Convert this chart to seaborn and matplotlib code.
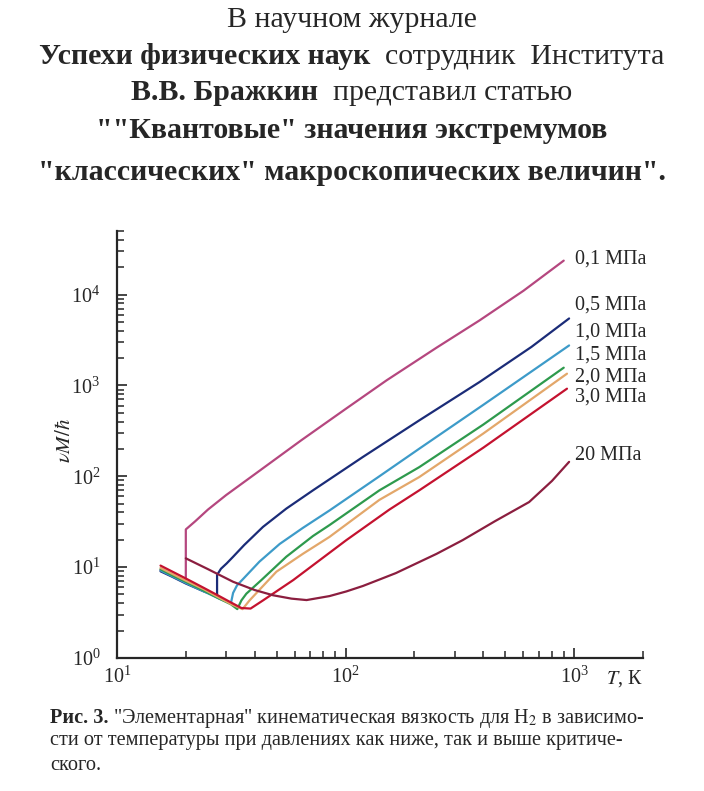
import numpy as np
import pandas as pd
import seaborn as sns
import matplotlib.pyplot as plt
from matplotlib.ticker import LogLocator, NullFormatter

# Значения: T (K) и vM/hbar
pressures = ["0,1 МПа", "0,5 МПа", "1,0 МПа", "1,5 МПа", "2,0 МПа", "3,0 МПа", "20 МПа"]
colors = ["#b5477f", "#1b2c78", "#3d9bc9", "#2e9a4d", "#e3a76a", "#c4122f", "#8b1e3f"]

T_01 = [15.5, 17.5, 20, 20, 22, 25, 30, 40, 64, 100, 151, 250, 385, 600, 900]
v_01 = [9.3, 8.0, 6.8, 26, 32, 43, 62, 105, 249, 550, 1135, 2600, 5180, 11000, 23600]

T_05 = [15.5, 17.5, 20, 24, 27.4, 27.4, 28.5, 30.2, 32.2, 36, 43.5, 55, 72, 119, 210, 385, 650, 950]
v_05 = [9.0, 7.8, 6.6, 5.4, 4.8, 8.2, 9.6, 11, 13, 17.5, 27.7, 44, 70, 163, 412, 1087, 2650, 5450]

T_10 = [15.5, 17.5, 20, 24, 28, 31.5, 32.2, 33.5, 35.6, 42, 51.5, 65, 85, 140.6, 210, 400, 950]
v_10 = [9.2, 7.9, 6.7, 5.4, 4.5, 4.0, 5.2, 6.3, 7.4, 11.5, 18, 27, 42, 100, 201, 610, 2750]

T_15 = [15.5, 17.5, 20, 24, 28, 31.5, 33.6, 35, 36.8, 42.8, 55, 72, 85, 140.6, 210, 400, 900]
v_15 = [9.5, 8.1, 6.9, 5.5, 4.5, 3.9, 3.45, 4.3, 5.1, 7.2, 13, 22, 29, 70, 126, 370, 1566]

T_20 = [15.5, 17.5, 20, 24, 28, 32, 35.4, 38, 43, 49.8, 65, 85, 140.6, 210, 400, 930]
v_20 = [9.8, 8.4, 7.1, 5.7, 4.6, 3.85, 3.45, 4.3, 6.0, 8.9, 14, 21.5, 55, 98, 295, 1345]

T_30 = [15.5, 17.5, 20, 24, 28, 32, 35, 38.4, 43.5, 59, 100.7, 155.5, 210, 400, 930]
v_30 = [10.4, 8.9, 7.5, 5.9, 4.8, 4.0, 3.55, 3.5, 4.3, 7.2, 19.8, 43, 70, 206, 920]

T_200 = [20, 25, 32.2, 40, 48.2, 58, 67.5, 85, 100.7, 119, 140.6, 166, 250, 325, 450, 635, 800, 950]
v_200 = [12.5, 9.5, 6.9, 5.6, 4.9, 4.5, 4.34, 4.8, 5.4, 6.2, 7.3, 8.6, 14, 19.8, 32, 52, 89, 144]

curves_T = [T_01, T_05, T_10, T_15, T_20, T_30, T_200]
curves_v = [v_01, v_05, v_10, v_15, v_20, v_30, v_200]

rows = []
for p, Ts, vs in zip(pressures, curves_T, curves_v):
    for T, v in zip(Ts, vs):
        rows.append({"T": T, "v": v, "p": p})
df = pd.DataFrame(rows)

sns.set_style("ticks")
plt.rcParams["font.family"] = ["Liberation Serif", "DejaVu Serif"]
plt.rcParams["mathtext.fontset"] = "stix"

W, H = 704, 791
fig = plt.figure(figsize=(W / 100, H / 100), dpi=100)
fig.patch.set_facecolor("white")
ax = fig.add_axes([117 / W, 1 - 658 / H, (643 - 117) / W, (658 - 231) / H])

sns.lineplot(data=df, x="T", y="v", hue="p", palette=dict(zip(pressures, colors)),
             estimator=None, sort=False, legend=False, linewidth=1.6, ax=ax)

ax.set_xscale("log")
ax.set_yscale("log")
ax.set_xlim(10, 2000)
ax.set_ylim(1, 5e4)
ax.xaxis.set_minor_locator(LogLocator(base=10, subs=np.arange(2, 10)))
ax.yaxis.set_minor_locator(LogLocator(base=10, subs=np.arange(2, 10)))
ax.xaxis.set_minor_formatter(NullFormatter())
ax.yaxis.set_minor_formatter(NullFormatter())
ax.tick_params(which="major", direction="in", length=7, width=1.2, labelsize=14.5, pad=6)
ax.tick_params(which="minor", direction="in", length=4.8, width=1.1)
ax.tick_params(axis="y", which="major", pad=12)
for s in ["top", "right"]:
    ax.spines[s].set_visible(False)
for s in ["left", "bottom"]:
    ax.spines[s].set_linewidth(1.6)
ax.set_xlabel("")
ax.set_ylabel(r"$\nu M/\hbar$", fontsize=15)
ax.yaxis.set_label_coords(-0.08, 0.51)

ax.annotate(r"$T$, К", xy=(1.0, 0.0), xycoords="axes fraction", xytext=(0, -7),
            textcoords="offset points", ha="right", va="top", fontsize=14.5)

# подписи давлений справа от кривых
label_y = [2.43e4, 7570, 3820, 2140, 1224, 738, 170]
for p, y in zip(pressures, label_y):
    ax.text(1010, y, p, fontsize=14.5, ha="left", va="center")

# заголовок над рисунком
renderer = fig.canvas.get_renderer()


def put_line(py, parts, size, x0=None):
    objs = []
    for txt, w in parts:
        objs.append(fig.text(0, 1 - py / H, txt, fontsize=size, fontweight=w,
                             ha="left", va="center"))
    widths = [t.get_window_extent(renderer).width for t in objs]
    x = (W - sum(widths)) / 2 if x0 is None else x0
    for t, w in zip(objs, widths):
        t.set_x(x / W)
        x += w


put_line(20, [("В научном журнале", "normal")], 21.5)
put_line(57, [("Успехи физических наук", "bold"), ("  сотрудник  Института", "normal")], 21.5)
put_line(93, [("В.В. Бражкин", "bold"), ("  представил статью", "normal")], 21.5)
put_line(130, [('""Квантовые" значения экстремумов', "bold")], 21.5)
put_line(173, [('"классических" макроскопических величин".', "bold")], 21.5)

# подпись к рисунку
put_line(718, [("Рис. 3.", "bold"),
               (' "Элементарная" кинематическая вязкость для H$_2$ в зависимо-', "normal")], 14.6, x0=50)
put_line(741, [("сти от температуры при давлениях как ниже, так и выше критиче-", "normal")], 14.6, x0=50)
put_line(765, [("ского.", "normal")], 14.6, x0=50)

fig.savefig("out.png", dpi=100, facecolor="white")
